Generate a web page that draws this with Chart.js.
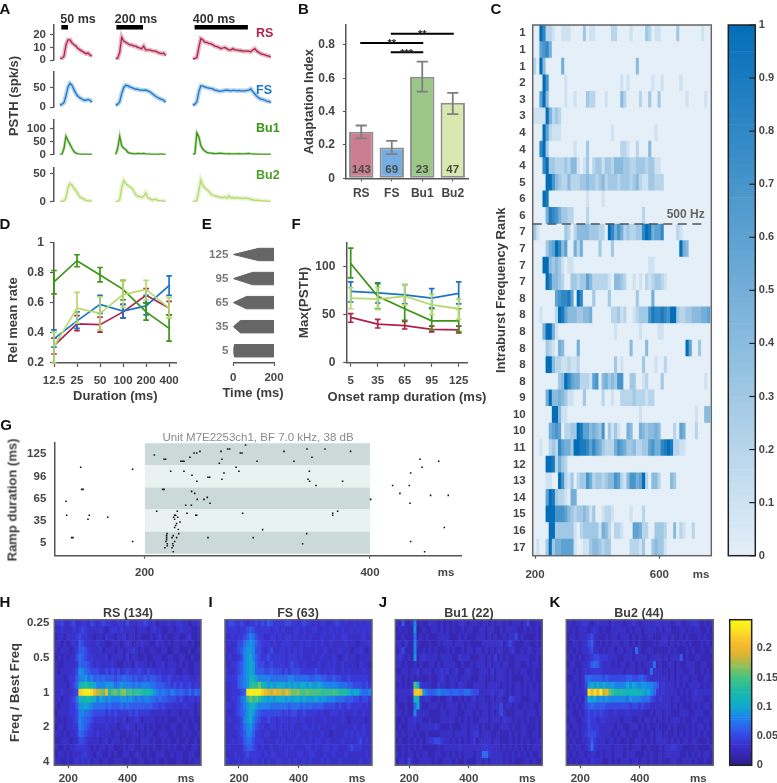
<!DOCTYPE html>
<html><head><meta charset="utf-8">
<script src="https://cdn.jsdelivr.net/npm/chart.js@4"></script>
<style>
html,body{margin:0;padding:0;background:#fff;width:777px;height:783px;overflow:hidden}
body{filter:blur(0.4px)}
canvas{position:absolute;left:0;top:0}
.t{position:absolute;white-space:nowrap;font-family:"Liberation Sans",Arial,sans-serif;line-height:1}
</style></head><body>
<script>
// ---------- Panel A: PSTH traces (spk/s), one sample every 15 ms
const rs50=[1.2,1.5,3,12,16,16,13.5,12,11,9,8,7,6,5,5.5,4,3];
const rs200=[1.2,1.4,6,18,15,14,13,12,12,11,11,10,9.5,9,11,8,8,8,7.5,7,7,6,5.5,5,5.5,3.5];
const rs400=[1,1.2,2,10,17,16,14,14,13,13,12,11,10.5,10,9,9.5,10,9,8,8,9,8,8,7.5,7.5,7,7,7,7,6.5,8,9,7,6,5,4.5,4,3.5,3,2.5];
const fs50=[5,8,12,30,52,61,56,45,35,28,24,21,18,18,20,18,13];
const fs200=[5,8,14,35,50,56,55,52,50,48,46,46,44,44,43,44,42,40,36,32,28,25,22,20,18,13];
const fs400=[5,8,14,40,55,54,52,50,49,48,47,44,43,41,41,42,43,44,43,42,43,43,42,43,42,42,42,43,44,47,40,34,28,24,21,20,18,16,15,12];
const bu150=[0.5,2,25,72,55,40,25,12,6,3,2,1,1,1,1,1,1];
const bu1200=[1,25,72,35,25,20,10,6,5,3,3,5,4,3,5,3,2,2,1.5,1,1,1,2,2,1,1];
const bu1400=[1,3,85,70,35,22,14,9,7,6,5,4,4,5,6,4,4,3,4,3,3,3,3,4,3,3,3,4,5,3,2,2,2,1,1,1,1,1,1,1];
const bu250=[1,1,2,8,25,33,30,24,20,14,9,7,5,3,2,2,1];
const bu2200=[1,1,4,25,38,33,30,27,25,20,13,10,10,8,10,16,8,6,4,4,5,3,2,2,1.5,1];
const bu2400=[1,1,3,20,39,30,25,22,19,14,12,11,10,9,8,8,9,7,11,7,8,7,8,7,7,6,7,7,6,5,4,3,3,3,2,2,2,1,1,1];
const psthColumnStart=[45,463,1042];
const stimStart=[55,468,1055];
const stimDur=[50,200,400];
// ---------- Panel B
const typeLabels=['RS','FS','Bu1','Bu2'];
const adaptation=[0.28,0.185,0.61,0.453];
const adaptLow=[0.24,0.145,0.52,0.385];
const adaptHigh=[0.317,0.225,0.70,0.513];
const unitCounts=[143,69,23,47];
const sigFrom=[1,0,1], sigTo=[3,2,2], sigY=[0.868,0.812,0.757];
// ---------- Panel C: one character per 10 ms bin, 0-9 then a = 1.0
const rankLabels=['1','1','1','2','3','3','4','4','4','5','6','6','7','7','7','7','8','8','8','8','8','8','9','10','10','11','12','13','14','15','16','17'];
const burstRows=[
"00a8221001 1100003011 0000022000 0100003201 1000003000 0000100",
"0067850000",
"20a4000005 0000000000 0000000000 0004000000",
"000a700000 1000000000 0000000010 1000000010 0100000100",
"006a400000 1001000322 0001000042 0000200300 3000000001 0000010",
"1111a52320",
"000a621110 0000000000 0000010000 0000000001",
"008a300000 0001000300 0000000022 1002000400",
"0008a33222 3244101302 3313324443 3223332331 1",
"0000aa7432 2422233433 2342333233 3234211332 22",
"000a900000 0000000100 0010000000",
"0000598753 3220000200 0000000000 0000020000",
"3100000000 3202444433 3220a85752 322338a956 6800002100",
"0000356a84 6005250000 0300030000 0000000000 0000000a54",
"000aa43431 0110000000 0000000000 0000000110",
"0000a84432 0033233642 2222104432 0010102123 321",
"0000000678 8960a80003 0000300000 0003000050",
"00100002a9 6444334450 0000022312 0012333798 8987aa3223 3444556",
"0005aa5100 0000000000 0000001000 0000100000 11",
"0000321054 0000500000 0000000000 0400004000 000000000a 6003000",
"0000aa4221 1211200000 0000003010 0000030001 0020000000",
"0000000034 a865522216 7045343770 0330012000 0300000000 0000010",
"00005a4454 3110003000 0020010022 2232221220",
"000000aa41 1000000000 0000000000 0000100000 0000000000 0010044",
"0000056760 2233a96645 4370313100 5400543445 4000020650 0020000",
"0010023286 553aa99868 6532225765 3342233675 589a922110",
"0000aa9253 2000000000",
"00001100a7 2130233752 3323447621 47756a2044 2000430000",
"00006a9322 1055000000",
"0000aaa777 6432334313 0012210000 0100020000",
"00000aa333 3331023333 3154202210 0066522003 3320040210 02",
"01003a3556 6661001134 4323300000 0222130034 331"];
const burstStart=193, burstBin=10;
// ---------- Panel D
const durLabels=['12.5','25','50','100','200','400'];
const dRS=[0.315,0.46,0.455,0.54,0.65,0.565], dRSlo=[0.26,0.415,0.405,0.50,0.60,0.52], dRShi=[0.365,0.515,0.505,0.59,0.695,0.61];
const dFS=[0.36,0.48,0.59,0.545,0.58,0.715], dFSlo=[0.305,0.43,0.53,0.50,0.52,0.65], dFShi=[0.42,0.54,0.65,0.59,0.65,0.78];
const dBu1=[0.74,0.88,0.785,0.69,0.54,0.43], dBu1lo=[0.66,0.84,0.74,0.62,0.485,0.345], dBu1hi=[0.815,0.92,0.835,0.75,0.60,0.52];
const dBu2=[0.31,0.565,0.53,0.655,0.69,0.565], dBu2lo=[0.2,0.465,0.42,0.57,0.62,0.5], dBu2hi=[0.405,0.67,0.64,0.745,0.75,0.635];
// ---------- Panel E
const rampLabels=[5,35,65,95,125];
// ---------- Panel F
const fRS=[47,40,38.5,34.5,34], fRSlo=[42,36,35,32,31], fRShi=[51,45,43,38,38];
const fFS=[74,72.5,70.5,67,72], fFSlo=[63,62,61,57,61], fFShi=[84,83,81,77,84];
const fBu1=[103,69,56,43.5,43.5], fBu1lo=[88,56,44,34,32], fBu1hi=[119,82,69,56,56];
const fBu2=[67,66,69,60,56], fBu2lo=[56,55,60,50,45], fBu2hi=[78,78,81,71,66];
// ---------- Panel G raster
const gLabels=[5,35,65,96,125];
const rasterMs=[143.2,189.3,144.1,145.3,130.2,130.8,150.9,149.7,167.2,135.2,136.4,189.3,
208.6,217.2,218.6,232.2,233.7,234.9,240.2,243.8,246.2,249.1,266.3,268.6,267.8,273.7,275.4,289.6,284.9,286.4,299.7,323.7,332.5,344.1,348.5,360.1,382.8,
223.1,234.9,242,246.4,256.2,257.7,270.4,268.6,281.1,283.7,346.2,345,346.4,352.1,375.7,
216,217.2,241.7,244.4,246.7,252.7,255.6,258,236.4,241.4,400.6,
210.7,229,226.6,225.7,227.5,229.3,226.6,231.4,228.4,227.5,226.6,229.9,245.3,246.2,237.6,287,304.7,366.9,366.9,371.3,
219.8,219.5,219.5,219.5,218.9,220.1,220.1,218,225.4,224.3,228.4,230.2,226.6,224.9,225.4,224.3,225.4,256.2,296.4,343.8,340.2,
444.4,461,446.2,436.1,420.1,434.9,426.6,453.8,469.5,435.5,466,436.1,448.5];
const rasterRow=[3.41,3.32,2.41,2.41,1.87,1.24,1.24,1.06,1.15,0.23,0.23,0.05,
3.97,3.77,3.77,3.68,3.68,3.68,3.86,4.06,4.06,4.13,3.59,3.77,4.13,4.24,4.24,4.42,4.06,4.06,3.68,4.13,3.68,4.24,3.86,4.24,4.13,
3.23,3.23,3.05,2.78,2.96,2.96,3.15,2.87,3.41,3.23,3.23,2.87,2.78,2.59,2.78,
2.41,2.41,2.32,2.23,1.96,1.96,2.05,1.78,1.69,1.69,1.96,
1.42,1.42,1.24,1.15,1.24,1.15,1.06,0.94,0.87,0.78,0.69,0.60,1.24,1.24,1.33,1.33,0.59,1.33,1.24,1.42,
0.41,0.32,0.23,0.14,0.05,-0.05,-0.14,-0.23,0.32,0.23,0.23,0.41,0.05,-0.05,-0.14,-0.23,-0.41,0.23,0.23,0.41,-0.05,
3.77,3.68,3.41,3.15,2.59,2.59,2.23,2.14,2.14,1.78,0.69,0.05,-0.41];
// ---------- Panels H-K: one base-36 character per 10 ms bin, in units of 0.01
const freqLabels=['0.25','','','','','0.5','','','','','1','','','','','2','','','','','4'];
const rsHeat=[
"44533453344354345443344353334454342333433443323343","33433343454333343234434333323332343322332343332233","23324334544332332433233423323222323423223322342232",
"33232343654333433223332343233433224332323323323122","32333234665433342333233233432322332233123322231232","23232335765443333423333242332232233322332233223223",
"32233334766543433334322333243332323342333232322332","32333345987655544545453454445435443433343223322332","33323446889786767666566766565565665544543434433343",
"33332457bcdcba888999789888787888776665545454453443","33433345mnoonkihgkdfgeghefdeedcdb98787687676575766","33233457cbcdbb8a9898889989878788776766555454344343",
"3233344699a987777676667676666666655454443434433233","23333445887765555454544445454444333333233323233233","32323345876654444343433423343233332323222332323223",
"23323344876543333433323343323323232232233223322322","33232334765443433332332232332323322333223223232233","22333233554333323423332322322333232232322322322322",
"32232334444323233233222323322323232232323223223322","23323233344332332232322332233223223332232332233223","33223234343423323322333223223322323223222332232332"];
const fsHeat=[
"45544543445454654444554434544343443345434334343444","44443445654444434434333443433443343434343343434343","33434456875443344343443433434333433343344333334333",
"34335578986544434334443334344343433433334333233344","33345689985543453344343434333343343333433323343233","34334589a86544544444344434333433433343234333233333",
"33445689a96554454444345443433334334343343333243322","43345689a96665565554545554444454343443343433334333","44446789bb9888877777788777776677665565544544444433",
"33446789dedgcb9a9aaa9a9a9aa9a99a988888777665554544","3344456noooomkjikjjhkigghffgffffeeeefedddb9aa87787","3344578dgefdba9a9aaa9a9aa9a999a9998887776665545544",
"44345689bb9888877777767776767666655554544544443434","33345679a97655555554545544544443433444343334334333","34334589a86544544344434434433433343333343233333234",
"33344578975443344343434333443434333343333334334333","33334568864434433343343343334333433233334343434333","33434467754443333434333433434344334333343333453433",
"34333356654343343343434333344343344344333454443333","33343345444434344333433344334433343343334333333433","43334344344343433443343433434333434333433333343343"];
const bu1Heat=[
"32622382322433232323234323332332323323233323522333","23232291232233232323223233223323322323333223232323","22322272323222333322232322233323232232335232222322",
"33242283222322323332333232222333333423532223322323","23522282232323222323223233233232323322342232332332","34323292343333233332243332223323242323223333322322",
"33232232322332323333223223233323233233223322323322","22332334233323343423422343223332423332323233223222","33232323222322343233323332223322323332322223323223",
"232323fb433322433233243322333323333232323323232322","333334lmk97667877767766776553333433432323323233323","233323cb334322322342232323423322323322543322233323",
"3223227a322333232333323233323332333523323223232232","33232283333222233233322333232332323532223332333232","22323343322322233333232323223332333243323232322322",
"23223332333334322232223323332322322333232233222323","32323323223222233332333323442333223222323233223322","23223232323445543323232323423333233222323232322332",
"22323232322222323333343333333443333232323232323332","323233232332233223232323332337743333232323232322323","23325322333323223332322322233232333323232223323222"];
const bu2Heat=[
"33233443234333243332334323333343333234323344323233","32323332343232233333232332333323233222332323322323","23323334533223233233323232233222332322323222323222",
"22332335632323233323323232222323332323232322232323","23232334533232332332332732233222223232223232232232","32323233455444333223332333323333232333623223322223",
"23322334676433323233233232333723223323223332233223","33232343444433333332333233237333232323322332232322","22332367666656555555665566543333332323233233223322",
"33232359a9a9a9998888a8a9899887634333232323333232323","3323334nknkoikgedcdcbcbcbb9a8743433332323234333333","3232325a9a8989888888798887775434333233223233332233",
"23232356766665555555545545443333333232322232323323","33223245454544334333433333223233233222333223332232","23322345443443333323332232332323232333232233223323",
"32332335444333332332233323232232223232223232332323","23232345554333323233232233223233232232323232323223","32322334643332332322322332323233332323233233222323",
"23233234743333323332323332232223233443322223222233","32323323332323323332333222323223233333223232323323","23232332433322323233323323323223222332233323223222"];
const heatStart=153, heatBin=10;
const heatBarTicks=[0,0.05,0.1,0.15,0.2];

// ---------- helpers
const W=777,H=783,FF='"Liberation Sans",Arial,sans-serif',AX='#555',TXT='#454545';
const C={RS:'#b0214b',FS:'#1a75c8',Bu1:'#3a9614',Bu2:'#b7da6f'};
const f=(s,w='bold')=>({family:FF,size:s,weight:w});
Chart.defaults.animation=false;Chart.defaults.responsive=false;Chart.defaults.maintainAspectRatio=false;
Chart.defaults.plugins.legend.display=false;Chart.defaults.plugins.tooltip.enabled=false;
Chart.defaults.font.family=FF;
function label(text,x,y,o={}){const d=document.createElement('div');d.className='t';d.textContent=text;
 d.style.left=x+'px';d.style.top=y+'px';d.style.fontSize=(o.size||11)+'px';d.style.fontWeight=o.weight||'bold';d.style.color=o.color||TXT;
 d.style.transform=`translate(${o.left?'0':'-50%'},-50%)`+(o.rot?` rotate(${o.rot}deg)`:'');document.body.appendChild(d);}
const setTicks=v=>s=>{s.ticks=v.map(value=>({value}));};
function hiddenAxis(o={}){return Object.assign({display:true,border:{display:false},grid:{display:false},ticks:{display:false}},o);}
function axis(o={}){const {tick=4,pad=3,tickOpts={},line=true,tickColor=AX,gridOffset,...rest}=o;
 const grid={display:true,drawOnChartArea:false,drawTicks:tick>0,tickLength:tick,tickColor,tickWidth:1.2};
 if(gridOffset!==undefined)grid.offset=gridOffset;
 return Object.assign({display:true,border:{display:line,color:AX,width:1.5},grid,
  ticks:Object.assign({font:f(11),color:TXT,padding:pad,autoSkip:false,maxRotation:0,minRotation:0},tickOpts)},rest);}
const yTitle=(text,xc,size=13)=>({display:true,text,font:f(size),color:'#3c3c3c',padding:{top:xc-size*0.6,bottom:0}});
const xTitle=(text,yc,size=13)=>({display:true,text,font:f(size),color:'#3c3c3c',padding:{top:0,bottom:H-yc-size*0.6}});
function make(box,cfg,right=false){const [x0,y0,x1,y1]=box;const c=document.createElement('canvas');c.width=W;c.height=H;c.style.width=W+'px';c.style.height=H+'px';document.body.appendChild(c);
 cfg.options=cfg.options||{};cfg.options.layout={padding:{left:right?x0:0,right:right?0:W-x1,top:y0,bottom:0}};
 const sx=cfg.options.scales.x,sy=cfg.options.scales.y;
 sx.afterFit=s=>{s.height=H-y1;};sy.afterFit=s=>{s.width=right?W-x1:x0;};
 return new Chart(c.getContext('2d'),cfg);}
const frame=(color,lw=1.5)=>({id:'frame',afterDraw(ch){const a=ch.chartArea,x=ch.ctx;x.save();x.strokeStyle=color;x.lineWidth=lw;x.strokeRect(a.left,a.top,a.right-a.left,a.bottom-a.top);x.restore();}});
function errPlugin(list){return {id:'err',afterDatasetDraw(ch,args){const e=list[args.index];if(!e)return;const x=ch.ctx,sx=ch.scales.x,sy=ch.scales.y;x.save();x.strokeStyle=e.color;x.lineWidth=e.lw||1.7;
 e.lo.forEach((l,i)=>{const px=sx.getPixelForValue(e.xs?e.xs[i]:i),a=sy.getPixelForValue(l),b=sy.getPixelForValue(e.hi[i]),c=e.cap||2.8;x.beginPath();x.moveTo(px,a);x.lineTo(px,b);x.moveTo(px-c,a);x.lineTo(px+c,a);x.moveTo(px-c,b);x.lineTo(px+c,b);x.stroke();});x.restore();}};}

// ---------- A
function psthRow(box,yMax,ticks,color,bandW,cols,extra=[]){
 const ds=[];cols.forEach((v,k)=>{ds.push({data:v.map((y,i)=>({x:psthColumnStart[k]+i*15,y})),borderColor:color,borderWidth:1.3,pointRadius:0,tension:0});});
 cols.forEach((v,k)=>{ds.push({data:v.map((y,i)=>({x:psthColumnStart[k]+i*15,y})),borderColor:color+'50',borderWidth:bandW,pointRadius:0,tension:0});});
 make(box,{type:'line',data:{datasets:extra.concat(ds)},options:{scales:{
  x:hiddenAxis({type:'linear',min:0,max:1636}),
  y:axis({type:'linear',min:0,max:yMax,afterBuildTicks:setTicks(ticks),tick:4,pad:4,tickOpts:{font:f(11.5),callback:v=>String(v)}})}}});}
const stimBars=stimStart.map((s,i)=>({data:[{x:s,y:26},{x:s+stimDur[i],y:26}],borderColor:'#000',borderWidth:4.8,pointRadius:0,borderCapStyle:'butt'}));
psthRow([54,25,272,60],27.7,[0,10,20],C.RS,4.5,[rs50,rs200,rs400],stimBars);
psthRow([54,72,272,107.3],90,[0,50],C.FS,4.5,[fs50,fs200,fs400]);
psthRow([54,120,272,154.7],135,[0,50,100],C.Bu1,3,[bu150,bu1200,bu1400]);
psthRow([54,167.7,272,202],61,[0,50],C.Bu2,4.5,[bu250,bu2200,bu2400]);
label('50 ms',78,19,{size:12.5,color:'#333'});label('200 ms',136,19,{size:12.5,color:'#333'});label('400 ms',214,19,{size:12.5,color:'#333'});
label('RS',256,32.7,{size:12.5,color:C.RS,left:1});label('FS',256,89.6,{size:12.5,color:C.FS,left:1});label('Bu1',256,128,{size:12.5,color:C.Bu1,left:1});label('Bu2',256,175,{size:12.5,color:'#4f9e2c',left:1});
label('PSTH (spk/s)',12.7,95.8,{size:13,rot:-90,color:'#3c3c3c'});

// ---------- B
const bPlugin={id:'bExtras',afterDraw(ch){const x=ch.ctx,sx=ch.scales.x,sy=ch.scales.y;x.save();x.strokeStyle='#000';x.lineWidth=2;
 sigY.forEach((y,i)=>{const p=sy.getPixelForValue(y);x.beginPath();x.moveTo(sx.getPixelForValue(sigFrom[i])-1,p);x.lineTo(sx.getPixelForValue(sigTo[i])+1,p);x.stroke();});
 x.fillStyle='#4a4a4a';x.font='bold 11.5px '+FF;x.textAlign='center';x.textBaseline='middle';
 unitCounts.forEach((n,i)=>x.fillText(String(n),sx.getPixelForValue(i),sy.getPixelForValue(0.05)));x.restore();}};
make([346,25,468,178.3],{type:'bar',data:{labels:typeLabels,datasets:[{data:adaptation,backgroundColor:['#cc7d90','#74ade1','#9bc889','#d9e8ae'],borderColor:'#8e8e8e',borderWidth:2,borderSkipped:false,barPercentage:0.8,categoryPercentage:1}]},
 plugins:[errPlugin({0:{lo:adaptLow,hi:adaptHigh,color:'#7f7f7f',lw:1.8,cap:5.6}}),bPlugin],
 options:{scales:{x:axis({type:'category',tick:3,pad:5,gridOffset:false,tickOpts:{font:f(12)}}),
 y:axis({type:'linear',min:0,max:0.92,afterBuildTicks:setTicks([0,0.2,0.4,0.6,0.8]),tick:3,pad:8,tickOpts:{font:f(12),callback:v=>String(v)},title:yTitle('Adaptation Index',309)})}}});
label('**',391.7,43,{size:11,color:'#222'});label('***',406.7,52.5,{size:11,color:'#222'});label('**',422.3,33.5,{size:11,color:'#222'});

// ---------- heatmap builder
const lerp=(a,b,t)=>a+(b-a)*t;
const blues=v=>`rgb(${Math.round(lerp(228,3,v))},${Math.round(lerp(239,110,v))},${Math.round(lerp(248,184,v))})`;
const parulaStops=[[0,[42,31,135]],[0.02,[55,40,180]],[0.04,[58,55,215]],[0.06,[50,90,235]],[0.08,[30,130,235]],[0.1,[15,170,205]],[0.125,[25,185,170]],[0.15,[70,195,130]],[0.17,[150,190,85]],[0.19,[225,180,50]],[0.21,[250,190,45]],[0.23,[250,225,35]],[0.25,[250,250,20]]];
function parula(v){for(let i=1;i<parulaStops.length;i++){const [a,c]=parulaStops[i-1],[b,d]=parulaStops[i];if(v<=b){const t=(v-a)/(b-a);return `rgb(${c.map((q,j)=>Math.round(lerp(q,d[j],t))).join(',')})`;}}return 'rgb(250,250,20)';}
function heatDatasets(rows,nCols,start,bin,decode,cmap){const ds=[];for(let c=0;c<nCols;c++){ds.push({data:rows.map(()=>[start+c*bin,start+(c+1)*bin]),backgroundColor:rows.map(r=>cmap(decode(r[c]||'0'))),grouped:false,barPercentage:1,categoryPercentage:1,borderWidth:0});}return ds;}

// ---------- C
const cleanRows=burstRows.map(r=>r.replace(/ /g,'').padEnd(57,'0'));
const cDash={id:'cDash',afterDraw(ch){const x=ch.ctx,y=ch.scales.y.getPixelForValue(11.5);x.save();x.strokeStyle='#555';x.lineWidth=1.6;x.setLineDash([9,5.5]);x.beginPath();x.moveTo(ch.scales.x.getPixelForValue(193),y);x.lineTo(ch.scales.x.getPixelForValue(750),y);x.stroke();x.restore();}};
const cMs=734;
make([532.7,25,711.3,555.7],{type:'bar',data:{labels:rankLabels,datasets:heatDatasets(cleanRows,57,burstStart,burstBin,ch=>parseInt(ch,36)/10,blues)},
 options:{indexAxis:'y',scales:{
  x:axis({type:'linear',min:192.6,max:767,line:false,tick:3,pad:9,tickColor:c=>c.tick&&c.tick.value===cMs?'transparent':AX,afterBuildTicks:setTicks([200,600,cMs]),tickOpts:{font:f(11.5),callback:v=>v===cMs?'ms':String(v)}}),
  y:axis({type:'category',line:false,tick:0,pad:7,tickOpts:{font:f(11.5)},title:yTitle('Intraburst Frequency Rank',501.7)})}},plugins:[cDash,frame('#666')]});
label('500 Hz',685.7,214,{size:12,color:'#666'});

function colorbar(box,max,ticks,cmap,levels,opts={}){const ds=[];for(let i=0;i<levels;i++){const lo=max*i/levels,hi=max*(i+1)/levels;ds.push({data:[[lo,hi]],backgroundColor:cmap((lo+hi)/2),grouped:false,barPercentage:1,categoryPercentage:1});}
 const inner={id:'inner',afterDraw(ch){if(!opts.inTicks)return;const x=ch.ctx,a=ch.chartArea;x.save();x.strokeStyle='#222';x.lineWidth=1.2;ch.scales.y.ticks.forEach(t=>{const p=ch.scales.y.getPixelForValue(t.value);x.beginPath();x.moveTo(a.right-6,p);x.lineTo(a.right,p);x.stroke();});x.restore();}};
 make(box,{type:'bar',data:{labels:[''],datasets:ds},options:{scales:{x:hiddenAxis({type:'category'}),
  y:axis({type:'linear',position:'right',min:0,max,line:false,tick:0,pad:opts.pad||3,afterBuildTicks:setTicks(ticks),tickOpts:{callback:v=>String(+v.toFixed(2))}})}},plugins:[frame('#222',1.5),inner]},true);}
const blueBarTicks=[0,0.1,0.2,0.3,0.4,0.5,0.6,0.7,0.8,0.9,1];
colorbar([728.3,25,755.3,555.7],1,blueBarTicks,blues,80,{inTicks:true,pad:3.5});

// ---------- D
const dx=durLabels.map((_,i)=>i);
function ln(y,xs,color,lw=1.7){return {data:y.map((v,i)=>({x:xs[i],y:v})),borderColor:color,borderWidth:lw,pointRadius:0,tension:0};}
make([54,242.7,176.7,363],{type:'line',data:{datasets:[ln(dBu2,dx,C.Bu2),ln(dBu1,dx,C.Bu1),ln(dFS,dx,C.FS),ln(dRS,dx,C.RS)]},
 plugins:[errPlugin({0:{lo:dBu2lo,hi:dBu2hi,color:C.Bu2},1:{lo:dBu1lo,hi:dBu1hi,color:C.Bu1},2:{lo:dFSlo,hi:dFShi,color:C.FS},3:{lo:dRSlo,hi:dRShi,color:C.RS}})],
 options:{clip:false,scales:{x:axis({type:'linear',min:0,max:5.33,afterBuildTicks:setTicks(dx),tick:4,pad:7,tickOpts:{font:f(11.5),callback:v=>durLabels[v]},title:xTitle('Duration (ms)',396.7)}),
 y:axis({type:'linear',min:0.2,max:1,afterBuildTicks:setTicks([0.2,0.4,0.6,0.8,1]),tick:4,pad:6,tickOpts:{callback:v=>String(v),font:f(12)}})}}});
label('Rel mean rate',12.3,320,{size:13,rot:-90,color:'#3c3c3c'});

// ---------- E
const eDs=[];rampLabels.forEach((r,i)=>{const h=0.258;
 eDs.push({data:[{x:0,y:i},{x:r,y:i+h},{x:200,y:i+h}],borderColor:'#666',backgroundColor:'#666',borderWidth:1,pointRadius:0,fill:'+1',tension:0});
 eDs.push({data:[{x:0,y:i},{x:r,y:i-h},{x:200,y:i-h}],borderColor:'#666',borderWidth:1,pointRadius:0,tension:0});});
make([233.3,242,274,363],{type:'line',data:{datasets:eDs},options:{scales:{
 x:axis({type:'linear',min:0,max:200,afterBuildTicks:setTicks([0,200]),tick:3,pad:5,tickOpts:{font:f(11.5),callback:v=>String(v)}}),
 y:axis({type:'linear',min:-0.51,max:4.52,line:false,tick:0,pad:5,afterBuildTicks:setTicks([0,1,2,3,4]),tickOpts:{font:f(11.5),color:'#777',callback:v=>String(rampLabels[v])}})}}});
label('Time (ms)',253,392,{size:13,color:'#3c3c3c'});

// ---------- F
make([346.3,242.3,467.7,362.7],{type:'line',data:{datasets:[ln(fBu2,rampLabels,C.Bu2,1.8),ln(fBu1,rampLabels,C.Bu1,1.8),ln(fFS,rampLabels,C.FS,1.8),ln(fRS,rampLabels,C.RS,1.8)]},
 plugins:[errPlugin({0:{lo:fBu2lo,hi:fBu2hi,color:C.Bu2,xs:rampLabels},1:{lo:fBu1lo,hi:fBu1hi,color:C.Bu1,xs:rampLabels},2:{lo:fFSlo,hi:fFShi,color:C.FS,xs:rampLabels},3:{lo:fRSlo,hi:fRShi,color:C.RS,xs:rampLabels}})],
 options:{clip:false,scales:{x:axis({type:'linear',min:0.1,max:135,afterBuildTicks:setTicks(rampLabels),tick:4,pad:7,tickOpts:{font:f(11.5),callback:v=>String(v)}}),
 y:axis({type:'linear',min:0,max:125,afterBuildTicks:setTicks([0,50,100]),tick:3,pad:8,tickOpts:{font:f(12),callback:v=>String(v)},title:yTitle('Max(PSTH)',304,13.5)})}}});
label('Onset ramp duration (ms)',407,396,{size:13,color:'#3c3c3c'});

// ---------- G
const gBands=gLabels.map((_,r)=>({data:[{x:200,y:r+0.5},{x:400,y:r+0.5}],borderWidth:0,pointRadius:0,backgroundColor:r%2?'#e8f2f1':'#cbd9d9',fill:{value:r-0.5}}));
const gMs=467.5;
make([54.3,442.3,461,555.7],{type:'line',data:{datasets:[{data:rasterMs.map((x,i)=>({x,y:rasterRow[i]})),showLine:false,pointStyle:'rect',pointRadius:1.1,pointBorderWidth:0,pointBackgroundColor:'#111'},...gBands]},
 options:{scales:{x:axis({type:'linear',min:119.8,max:480.8,tick:3,pad:7,tickColor:c=>c.tick&&c.tick.value===gMs?'transparent':AX,afterBuildTicks:setTicks([200,400,gMs]),tickOpts:{font:f(11.5),callback:v=>v===gMs?'ms':String(v)}}),
 y:axis({type:'linear',min:-0.588,max:4.54,tick:0,pad:8,afterBuildTicks:setTicks([0,1,2,3,4]),tickOpts:{callback:v=>String(gLabels[v]),font:f(11.5)}})}}});
label('Ramp duration (ms)',12.3,499.7,{size:13,rot:-90,color:'#3c3c3c'});
label('Unit M7E2253ch1, BF 7.0 kHz, 38 dB',258,438,{size:11.5,weight:'normal',color:'#8a8a8a'});

// ---------- H-K
const hMs=597;
function heat(box,rows,title,tx,showY){make(box,{type:'bar',data:{labels:freqLabels,datasets:heatDatasets(rows,50,heatStart,heatBin,ch=>parseInt(ch,36)*0.01,parula)},
 options:{indexAxis:'y',scales:{x:axis({type:'linear',min:153,max:647,line:false,tick:3,pad:3.5,tickColor:c=>c.tick&&c.tick.value===hMs?'transparent':AX,afterBuildTicks:setTicks([200,400,hMs]),tickOpts:{font:f(11.5),callback:v=>v===hMs?'ms':String(v)}}),
 y:showY?axis({type:'category',line:false,tick:0,pad:5,tickOpts:{font:f(11.5)},title:yTitle('Freq / Best Freq',15,13)}):hiddenAxis({type:'category'})}},plugins:[frame('#666')]});
 label(title,tx,613,{size:12.5,color:'#3c3c3c'});}
heat([54.3,619.7,201,765.3],rsHeat,'RS (134)',128,true);
heat([225,619.7,372,765.3],fsHeat,'FS (63)',298,false);
heat([395.3,619.7,542.3,765.3],bu1Heat,'Bu1 (22)',469,false);
heat([566.3,619.7,713.3,765.3],bu2Heat,'Bu2 (44)',639,false);
colorbar([729.7,619.7,751.7,765.3],0.249,heatBarTicks,parula,70,{pad:5});

// ---------- panel letters
[['A',5,7.5],['B',303.3,7.5],['C',496,7.5],['D',5,223],['E',206.7,223],['F',296,223],['G',6,424],['H',5,601],['I',210.7,601],['J',383,601],['K',555,601]].forEach(l=>label(l[0],l[1],l[2],{size:15,color:'#111'}));
</script>
</body></html>
